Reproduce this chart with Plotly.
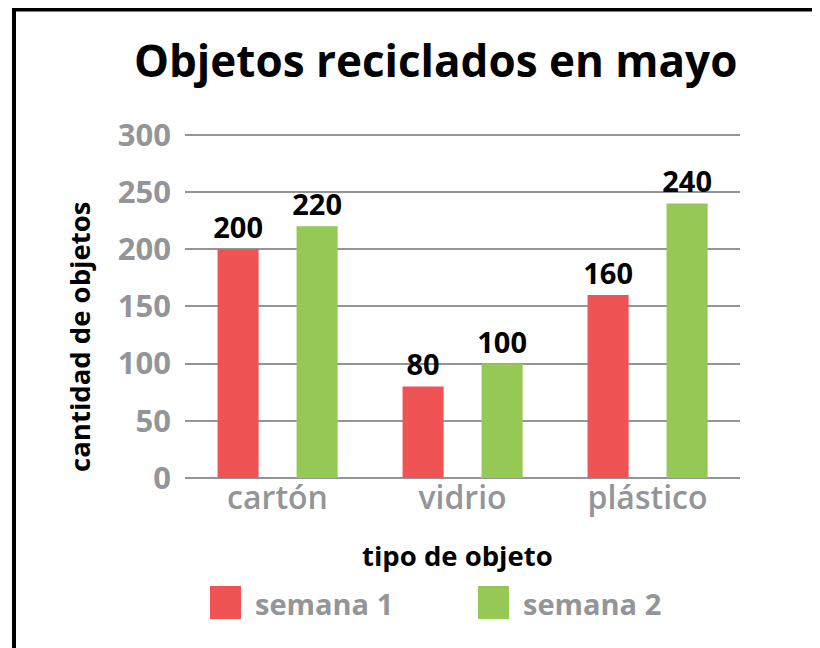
import plotly.graph_objects as go

categorias = ["cartón", "vidrio", "plástico"]
semana1 = [200, 80, 160]
semana2 = [220, 100, 240]
series_nombres = ["semana 1", "semana 2"]
y_ticks = [0, 50, 100, 150, 200, 250, 300]

titulo = "Objetos reciclados en mayo"
titulo_x = "tipo de objeto"
titulo_y = "cantidad de objetos"

ROJO = "#EF5354"
VERDE = "#95C854"
GRIS = "#939598"
FONT = "Open Sans"

OFF = 8  # page body margin
W, H = 820 - OFF, 648 - OFF
Y_MAX = 305
# plot area in screenshot coordinates (300 sits at y=135, 0 at y=478)
B = 478
T = B - (478 - 135) * Y_MAX / 300
L, R = 185, 740


def px(x):
    return (x - L) / (R - L)


def py(y):
    return (B - y) / (B - T)


fig = go.Figure()
for nombre, vals, color, off in [(series_nombres[0], semana1, ROJO, -0.324),
                                 (series_nombres[1], semana2, VERDE, 0.103)]:
    fig.add_trace(go.Bar(
        x=categorias, y=vals, name=nombre, marker=dict(color=color, line=dict(width=0)),
        width=0.222, offset=off,
        text=[str(v) for v in vals], textposition="outside", constraintext="none",
        textfont=dict(family=FONT, size=29, color="black", weight="bold"),
        cliponaxis=False, showlegend=False,
    ))

fig.update_layout(
    width=W, height=H,
    margin=dict(l=L - OFF, r=W - (R - OFF), t=T - OFF, b=H - (B - OFF)),
    paper_bgcolor="white", plot_bgcolor="white",
    barmode="overlay",
    xaxis=dict(range=[-0.5, 2.5], showgrid=False, zeroline=False, showline=False,
               tickfont=dict(family=FONT, size=32, color=GRIS, weight=600), ticks="",
               ticklabelstandoff=-2),
    yaxis=dict(range=[0, Y_MAX], tickvals=y_ticks, showgrid=True, gridcolor=GRIS, gridwidth=2,
               zeroline=True, zerolinecolor=GRIS, zerolinewidth=2, showline=False,
               tickfont=dict(family=FONT, size=31, color=GRIS, weight="bold"), ticks="",
               ticklabelstandoff=13),
    showlegend=False,
)

anns = [
    dict(text=titulo, x=px(435), y=py(60), font=dict(family=FONT, size=44, color="black", weight="bold")),
    dict(text=titulo_x, x=px(457), y=py(555), font=dict(family=FONT, size=27.5, color="black", weight="bold")),
    dict(text=titulo_y, x=px(80), y=py(337), textangle=-90, font=dict(family=FONT, size=27.5, color="black", weight="bold")),
]
for a in anns:
    a.update(xref="paper", yref="paper", showarrow=False, xanchor="center", yanchor="middle")
    fig.add_annotation(**a)

# legend
for x0, color, nombre in [(210, ROJO, series_nombres[0]), (478, VERDE, series_nombres[1])]:
    fig.add_shape(type="rect", xref="paper", yref="paper", x0=px(x0), x1=px(x0 + 31),
                  y0=py(586), y1=py(619), fillcolor=color, line=dict(width=0))
    fig.add_annotation(text=nombre, xref="paper", yref="paper", x=px(x0 + 43), y=py(603),
                       xanchor="left", yanchor="middle", showarrow=False,
                       font=dict(family=FONT, size=29, color=GRIS, weight="bold"))

# frame
fig.add_shape(type="rect", xref="paper", yref="paper", x0=px(14), x1=px(814), y0=py(10), y1=py(720),
              line=dict(color="black", width=4), fillcolor="rgba(0,0,0,0)", layer="above")

fig.write_html("out.html")
